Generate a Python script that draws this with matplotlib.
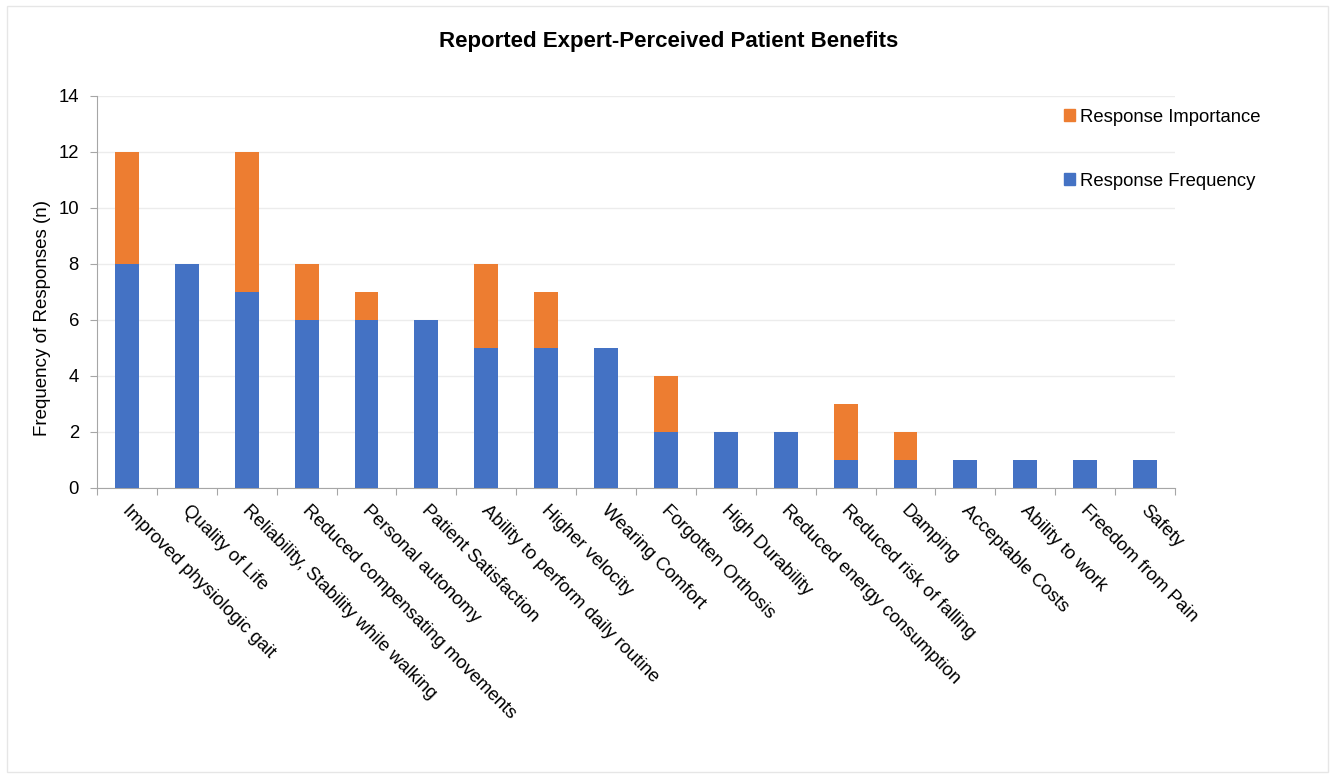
import matplotlib.pyplot as plt
import numpy as np
from matplotlib.patches import Rectangle, Patch

plt.rcParams['font.family'] = ['Liberation Sans', 'DejaVu Sans']

benefits = ['Improved physiologic gait', 'Quality of Life', 'Reliability, Stability while walking',
            'Reduced compensating movements', 'Personal autonomy', 'Patient Satisfaction',
            'Ability to perform daily routine', 'Higher velocity', 'Wearing Comfort',
            'Forgotten Orthosis', 'High Durability', 'Reduced energy consumption',
            'Reduced risk of falling', 'Damping', 'Acceptable Costs', 'Ability to work',
            'Freedom from Pain', 'Safety']
frequency = [8, 8, 7, 6, 6, 6, 5, 5, 5, 2, 2, 2, 1, 1, 1, 1, 1, 1]
importance = [4, 0, 5, 2, 1, 0, 3, 2, 0, 2, 0, 0, 2, 1, 0, 0, 0, 0]

blue = '#4472c4'
orange = '#ed7d31'

fig = plt.figure(figsize=(13.31, 7.74), dpi=100)
ax = fig.add_axes([97 / 1331, 1 - 488 / 774, 1078 / 1331, 392 / 774])

x = np.arange(len(benefits))
ax.bar(x, frequency, width=0.4, color=blue, zorder=3)
ax.bar(x, importance, width=0.4, bottom=frequency, color=orange, zorder=3)

ax.set_xlim(-0.5, len(benefits) - 0.5)
ax.set_ylim(0, 14)
ax.set_yticks(range(0, 15, 2))
ax.yaxis.grid(True, color='#ececec', linewidth=1, zorder=0)

# category boundary ticks; labels hang from just right of each bar centre
ax.set_xticks(np.arange(-0.5, len(benefits), 1))
ax.set_xticklabels([])
ax.set_xticks(x + 0.07, minor=True)
ax.set_xticklabels(benefits, minor=True, rotation=-45, ha='left', va='top',
                   rotation_mode='anchor', fontsize=13.3)
ax.tick_params(axis='x', which='minor', length=0, pad=10)
ax.tick_params(axis='x', which='major', length=5, color='#a6a6a6')
ax.tick_params(axis='y', length=5, color='#a6a6a6', labelsize=13.3, pad=8)

for side in ['top', 'right']:
    ax.spines[side].set_visible(False)
for side in ['left', 'bottom']:
    ax.spines[side].set_color('#a6a6a6')

ax.set_ylabel('Frequency of Responses (n)', fontsize=13.5)
ax.yaxis.set_label_coords(-0.043, 0.434)

fig.text(0.502, 1 - 41 / 774, 'Reported Expert-Perceived Patient Benefits',
         ha='center', va='center', fontsize=16, fontweight='bold')

handles = [Patch(color=orange, label='Response Importance'),
           Patch(color=blue, label='Response Frequency')]
fig.legend(handles=handles, loc='upper left', bbox_to_anchor=(1047 / 1331, 1 - 92 / 774),
           frameon=False, fontsize=13.3, handlelength=0.6, handleheight=0.6,
           handletextpad=0.3, labelspacing=2.55)

fig.patches.append(Rectangle((7 / 1331, 0.002), 1 - 10 / 1331, 1 - 6 / 774 - 0.002,
                             transform=fig.transFigure, fill=False,
                             edgecolor='#e6e6e6', linewidth=1))

fig.savefig('out.png', dpi=100)
